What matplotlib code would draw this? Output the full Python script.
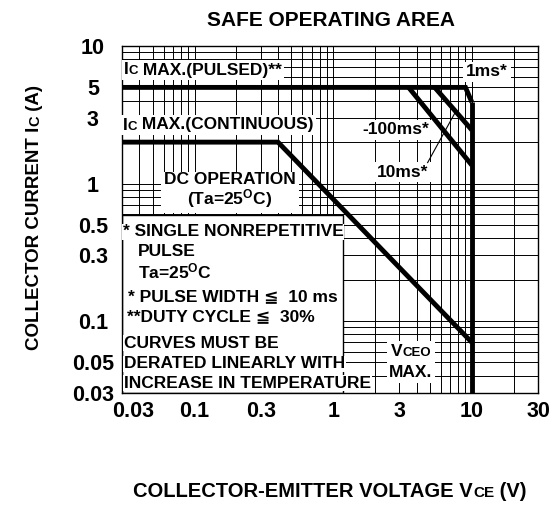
import matplotlib
matplotlib.use("Agg")
import matplotlib.pyplot as plt
from matplotlib.offsetbox import TextArea, HPacker, VPacker, AnnotationBbox
from matplotlib.patches import Rectangle
from matplotlib.transforms import IdentityTransform, ScaledTranslation

FONT = ["Liberation Sans", "DejaVu Sans"]
plt.rcParams["font.family"] = FONT
plt.rcParams["font.weight"] = "bold"
plt.rcParams["mathtext.fontset"] = "custom"
plt.rcParams["mathtext.rm"] = "Liberation Sans:bold"
plt.rcParams["mathtext.it"] = "Liberation Sans:bold"
plt.rcParams["mathtext.bf"] = "Liberation Sans:bold"

# SOA boundaries: V_CE (V) vs I_C (A)
dc_v = [0.03, 0.4, 10]
dc_i = [2.0, 2.0, 0.07]
pulse_1ms_v = [0.03, 9.0, 10]
pulse_1ms_i = [5.0, 5.0, 3.9]
pulse_10ms_v = [5.4, 10]
pulse_10ms_i = [5.0, 2.45]
pulse_100ms_v = [3.5, 10]
pulse_100ms_i = [5.0, 1.36]
vceo_v = [10, 10]
vceo_i = [3.9, 0.03]
leader_10ms_v = [4.8, 7.6]
leader_10ms_i = [1.42, 3.3]

x_ticks = [0.03, 0.1, 0.3, 1, 3, 10, 30]
x_labels = ["0.03", "0.1", "0.3", "1", "3", "10", "30"]
y_ticks = [10, 5, 3, 1, 0.5, 0.3, 0.1, 0.05, 0.03]
y_labels = ["10", "5", "3", "1", "0.5", "0.3", "0.1", "0.05", "0.03"]

notes = [
    ("* SINGLE NONREPETITIVE", 123, 232),
    ("PULSE", 138, 252),
    ("Ta=25$^{O}$C", 138, 271),
    ("* PULSE WIDTH \u2266  10 ms", 128, 297),
    ("**DUTY CYCLE \u2266  30%", 127, 317),
    ("CURVES MUST BE", 124, 343),
    ("DERATED LINEARLY WITH", 124, 364),
    ("INCREASE IN TEMPERATURE", 124, 383),
]

W, H = 549, 505
FS = 12.5
FS_SMALL = 9.5

fig = plt.figure(figsize=(W / 100, H / 100), dpi=100)
ax = fig.add_axes([122 / W, 1 - 393 / H, (538 - 122) / W, (393 - 46) / H])


def A(xp, yp):
    """reference pixel -> axes fraction"""
    return ((xp - 122) / 416, (393 - yp) / 347)


def rich(ax, xy, runs, align=(0, 0.5), zorder=3):
    boxes = [TextArea(s, textprops=dict(fontsize=fs, fontweight="bold", family=FONT))
             for s, fs in runs]
    pack = HPacker(children=boxes, align="baseline", pad=0, sep=0)
    ab = AnnotationBbox(pack, xy, xycoords="axes fraction", box_alignment=align,
                        frameon=True, pad=0.15,
                        bboxprops=dict(fc="white", ec="none"), zorder=zorder)
    ax.add_artist(ab)


def runs_text(fig, cx, cy, runs, rotation=0):
    renderer = fig.canvas.get_renderer()
    texts = [fig.text(0, 0, s, fontsize=fs, fontweight="bold", transform=IdentityTransform(),
                      rotation=rotation, rotation_mode="anchor", ha="left", va="baseline")
             for s, fs in runs]
    lengths = []
    for t in texts:
        bb = t.get_window_extent(renderer)
        lengths.append(bb.height if rotation else bb.width)
    pos = -sum(lengths) / 2
    for t, L in zip(texts, lengths):
        t.set_position((cx, cy + pos) if rotation else (cx + pos, cy))
        pos += L


ax.set_xscale("log")
ax.set_yscale("log")
ax.set_xlim(0.03, 30)
ax.set_ylim(0.03, 10)
ax.set_axisbelow(True)
ax.grid(True, which="both", color="black", lw=0.7)
ax.set_xticks(x_ticks, x_labels)
ax.set_yticks(y_ticks, y_labels)
ax.xaxis.set_minor_formatter(plt.NullFormatter())
ax.yaxis.set_minor_formatter(plt.NullFormatter())
ax.tick_params(which="both", length=0, labelsize=15.5)
ax.tick_params(axis="x", pad=6)
ax.tick_params(axis="y", pad=21)
for lbl in ax.get_yticklabels():
    lbl.set_ha("center")
for lbl in ax.get_xticklabels() + ax.get_yticklabels():
    lbl.set_fontweight("bold")
t0 = ax.xaxis.get_major_ticks()[0].label1
t0.set_transform(t0.get_transform() + ScaledTranslation(0.11, 0, fig.dpi_scale_trans))
for s in ax.spines.values():
    s.set_linewidth(1.0)
    s.set_color("black")

lw = 3.5
for v, i in [(dc_v, dc_i), (pulse_1ms_v, pulse_1ms_i), (pulse_10ms_v, pulse_10ms_i),
             (pulse_100ms_v, pulse_100ms_i), (vceo_v, vceo_i)]:
    ax.plot(v, i, color="black", lw=lw, solid_capstyle="butt", solid_joinstyle="miter", zorder=4)
ax.plot(leader_10ms_v, leader_10ms_i, color="black", lw=0.8, zorder=4)

# labels inside the plot
rich(ax, A(124, 70), [("I", FS), ("C", FS_SMALL), (" MAX.(PULSED)**", FS)])
rich(ax, A(123, 125), [("I", FS), ("C", FS_SMALL), (" MAX.(CONTINUOUS)", FS)])
ax.text(*A(230, 191), "DC OPERATION\n(Ta=25$^{O}$C)", transform=ax.transAxes, fontsize=FS,
        ha="center", va="center", linespacing=1.0, zorder=3,
        bbox=dict(fc="white", ec="none", pad=2))
ax.text(*A(487, 72), "1ms*", transform=ax.transAxes, fontsize=FS, ha="center", va="center",
        zorder=3, bbox=dict(fc="white", ec="none", pad=2))
ax.text(*A(396, 130), "-100ms*", transform=ax.transAxes, fontsize=FS, ha="center", va="center",
        zorder=3, bbox=dict(fc="white", ec="none", pad=2))
ax.text(*A(403, 172), "10ms*", transform=ax.transAxes, fontsize=FS, ha="center", va="center",
        zorder=3, bbox=dict(fc="white", ec="none", pad=2))

vceo = HPacker(children=[TextArea("V", textprops=dict(fontsize=FS, fontweight="bold")),
                         TextArea("CEO", textprops=dict(fontsize=FS_SMALL, fontweight="bold"))],
               align="baseline", pad=0, sep=0)
vbox = VPacker(children=[vceo, TextArea("MAX.", textprops=dict(fontsize=FS, fontweight="bold"))],
               align="center", pad=0, sep=4)
ax.add_artist(AnnotationBbox(vbox, A(411, 362), xycoords="axes fraction", frameon=True, pad=0.2,
                             bboxprops=dict(fc="white", ec="none"), zorder=3))

# notes box
x0, y0 = A(122, 393)
x1, y1 = A(343, 215)
ax.add_patch(Rectangle((x0, y0), x1 - x0, y1 - y0, transform=ax.transAxes, fc="white",
                       ec="black", lw=1.0, zorder=2))
for s, xp, yp in notes:
    ax.text(*A(xp, yp), s, transform=ax.transAxes, fontsize=FS, ha="left", va="center",
            zorder=3, bbox=dict(fc="white", ec="none", pad=0.5))

# title and axis labels
fig.text(331 / W, 1 - 20 / H, "SAFE OPERATING AREA", fontsize=15, fontweight="bold",
         ha="center", va="center")
runs_text(fig, 330, H - 497, [("COLLECTOR-EMITTER VOLTAGE V", 14.5), ("CE", 11), (" (V)", 14.5)])
runs_text(fig, 39, H - 217, [("COLLECTOR CURRENT I", 13.5), ("C", 10.5), (" (A)", 13.5)], rotation=90)

fig.savefig("out.png", dpi=100)
